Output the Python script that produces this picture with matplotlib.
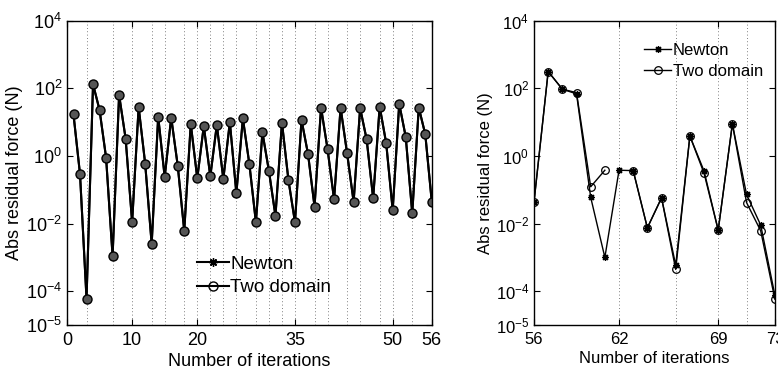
import numpy as np
import matplotlib
matplotlib.use("Agg")
import matplotlib.pyplot as plt
from matplotlib import font_manager

plt.rcParams["font.family"] = ["Liberation Sans", "DejaVu Sans"]
plt.rcParams["mathtext.fontset"] = "custom"
plt.rcParams["mathtext.rm"] = "Liberation Sans"
plt.rcParams["mathtext.it"] = "Liberation Sans:italic"

# left panel: iterations 1..56 (both methods coincide)
iter_left = np.arange(1, 57)
newton_left = [17, 0.29, 6e-5, 133, 23, 0.9, 1.1e-3, 64, 3.3, 0.011,
               28, 0.6, 2.5e-3, 14.6, 0.24, 13.7, 0.52, 6.1e-3, 8.9, 0.22,
               7.7, 0.25, 8.3, 0.21, 10, 0.079, 13, 0.57, 0.011, 5.0,
               0.36, 0.017, 9.7, 0.19, 0.011, 11.7, 1.15, 0.032, 27, 1.6,
               0.052, 27, 1.2, 0.044, 26, 3.1, 0.056, 29, 2.4, 0.025,
               35, 3.7, 0.02, 27, 4.4, 0.044]
twodom_left = list(newton_left)
grid_left = [3, 7, 10, 13, 15, 18, 20, 22, 24, 26, 29, 31, 33, 35, 38, 40,
             43, 45, 48, 50, 53, 56]
xticks_left = [0, 10, 20, 35, 50, 56]

# right panel: iterations 56..73
iter_right = np.arange(56, 74)
newton_right = [0.044, 316, 95, 69, 0.06, 1.0e-3, 0.38, 0.37, 0.0075, 0.058,
                5.9e-4, 3.9, 0.36, 0.0064, 8.9, 0.073, 0.009, 7.6e-5]
twodom_right = [0.044, 316, 95, 75, 0.123, 0.38, np.nan, 0.37, 0.0075, 0.058,
                4.4e-4, 3.9, 0.31, 0.0064, 8.9, 0.042, 0.0061, 5.8e-5]
grid_right = [62, 66, 69, 71, 73]
xticks_right = [56, 62, 69, 73]

yticks = [1e-5, 1e-4, 1e-2, 1e0, 1e2, 1e4]
ytick_labels = [r"$10^{-5}$", r"$10^{-4}$", r"$10^{-2}$", r"$10^{0}$",
                r"$10^{2}$", r"$10^{4}$"]

star = (8, 2, 0)

# the right panel in the picture is squeezed sideways -> narrow face
names = {f.name for f in font_manager.fontManager.ttflist}
narrow = "Liberation Sans Narrow" if "Liberation Sans Narrow" in names else "Liberation Sans"

fig = plt.figure(figsize=(7.78, 3.72), dpi=100)
ax1 = fig.add_axes([0.0861, 0.1263, 0.4689, 0.8177])
ax2 = fig.add_axes([0.6864, 0.1263, 0.3096, 0.8177])


def style(ax, grid, xticks, xlim, fs, family):
    ax.set_yscale("log")
    ax.set_ylim(1e-5, 1e4)
    ax.set_xlim(*xlim)
    for g in grid:
        ax.axvline(g, color="#555555", ls=(0, (1, 3)), lw=0.6, zorder=0)
    ax.set_xticks(xticks)
    ax.set_xticklabels([str(t) for t in xticks], family=family)
    ax.set_yticks(yticks)
    ax.set_yticklabels(ytick_labels)
    ax.yaxis.set_minor_locator(matplotlib.ticker.NullLocator())
    ax.tick_params(direction="in", top=True, right=True, labelsize=fs,
                   length=4, width=0.8)
    ax.tick_params(axis="x", pad=5)
    for s in ax.spines.values():
        s.set_linewidth(1.0)
    ax.set_xlabel("Number of iterations", fontsize=fs, labelpad=3,
                  family=family)
    ax.set_ylabel("Abs residual force (N)", fontsize=fs, labelpad=2,
                  family=family)


ax1.plot(iter_left, newton_left, color="k", lw=1.5, marker=star,
         ms=6, mew=1.0, label="Newton")
ax1.plot(iter_left, twodom_left, color="k", lw=1.5, marker="o",
         ms=6.5, mfc="#555555", mew=1.0, label="Two domain")
style(ax1, grid_left, xticks_left, (0, 56), 13, "Liberation Sans")
ax1.legend(loc="lower left", bbox_to_anchor=(0.335, 0.07), frameon=False,
           prop={"family": "Liberation Sans", "size": 13.5},
           handlelength=1.7, handletextpad=0.1,
           labelspacing=0.35, borderaxespad=0)
leg = ax1.get_legend()
leg.legend_handles[1].set_markerfacecolor("none")

ax2.plot(iter_right, newton_right, color="k", lw=1.0, marker=star,
         ms=5, mew=0.9, label="Newton")
ax2.plot(iter_right, twodom_right, color="k", lw=1.0, marker="o",
         ms=5.5, mfc="none", mew=0.9, label="Two domain")
style(ax2, grid_right, xticks_right, (56, 73), 12, narrow)
ax2.legend(loc="upper left", bbox_to_anchor=(0.43, 0.95), frameon=False,
           prop={"family": narrow, "size": 12},
           handlelength=1.6, handletextpad=0.1,
           labelspacing=0.35, borderaxespad=0)

fig.savefig("out.png", dpi=100)
